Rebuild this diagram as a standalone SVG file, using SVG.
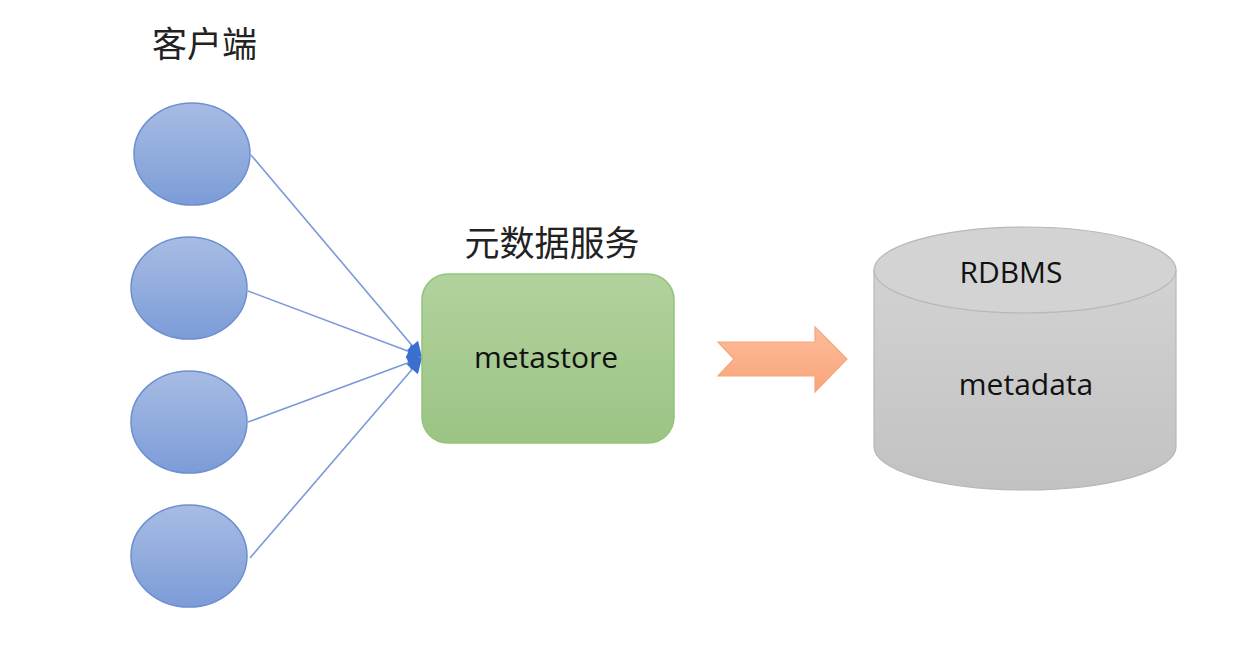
<svg xmlns="http://www.w3.org/2000/svg" width="1260" height="652" viewBox="0 0 1260 652">
<defs>
<linearGradient id="gBlue" x1="0" y1="0" x2="0" y2="1"><stop offset="0" stop-color="#a7bce3"/><stop offset="1" stop-color="#7c9cd8"/></linearGradient>
<linearGradient id="gGreen" x1="0" y1="0" x2="0" y2="1"><stop offset="0" stop-color="#b2d29d"/><stop offset="1" stop-color="#9bc484"/></linearGradient>
<linearGradient id="gGray" x1="0" y1="0" x2="0" y2="1"><stop offset="0" stop-color="#d2d2d2"/><stop offset="1" stop-color="#c2c2c2"/></linearGradient>
<linearGradient id="gOrange" x1="0" y1="0" x2="0" y2="1"><stop offset="0" stop-color="#fcbc9a"/><stop offset="1" stop-color="#f9a57a"/></linearGradient>
<marker id="arr" viewBox="0 0 10 10" refX="9" refY="5" markerWidth="17" markerHeight="15" markerUnits="userSpaceOnUse" orient="auto"><path d="M0,0 L10,5 L0,10 z" fill="#3b6fcf"/></marker>
<style>
.client{fill:url(#gBlue);stroke:#6d8ed0;stroke-width:1.5}
.conn{stroke:#7b98d8;stroke-width:1.6;fill:none;marker-end:url(#arr)}
.cjk{font-family:"Noto Sans CJK SC","Noto Sans",sans-serif;fill:#222;font-size:35px}
.lbl{font-family:"Open Sans","Noto Sans",sans-serif;fill:#111;font-size:30px}
</style>
</defs>
<rect width="1260" height="652" fill="#ffffff"/>
<text class="cjk" x="152" y="57">客户端</text>
<g id="client1"><ellipse class="client" cx="192" cy="154" rx="58" ry="51"/></g>
<g id="client2"><ellipse class="client" cx="189" cy="288" rx="58" ry="51"/></g>
<g id="client3"><ellipse class="client" cx="189" cy="422" rx="58" ry="51"/></g>
<g id="client4"><ellipse class="client" cx="189" cy="556" rx="58" ry="51"/></g>
<g id="connectors">
<line class="conn" x1="251" y1="155" x2="421" y2="356"/>
<line class="conn" x1="248" y1="291" x2="421" y2="356"/>
<line class="conn" x1="248" y1="422" x2="421" y2="358"/>
<line class="conn" x1="250" y1="558" x2="421" y2="359"/>
</g>
<g id="metastore">
<text class="cjk" x="552" y="256" text-anchor="middle" font-size="36">元数据服务</text>
<rect x="422" y="274" width="252" height="169" rx="26" fill="url(#gGreen)" stroke="#93c47c" stroke-width="1.5"/>
<text class="lbl" x="546" y="368" text-anchor="middle" font-size="31">metastore</text>
</g>
<g id="flow-arrow">
<path d="M718,342 L815,342 L815,327 L847,359 L815,392 L815,376 L718,376 L734,359 Z" fill="url(#gOrange)" stroke="#f7a57b" stroke-width="1.2"/>
</g>
<g id="rdbms">
<path d="M874,270 L874,447 A151,43 0 0 0 1176,447 L1176,270 Z" fill="url(#gGray)" stroke="#b8b8b8" stroke-width="1.2"/>
<ellipse cx="1025" cy="270" rx="151" ry="43" fill="#d3d3d3" stroke="#b8b8b8" stroke-width="1.2"/>
<text class="lbl" x="1011" y="283" text-anchor="middle">RDBMS</text>
<text class="lbl" x="1026" y="395" text-anchor="middle">metadata</text>
</g>
</svg>
